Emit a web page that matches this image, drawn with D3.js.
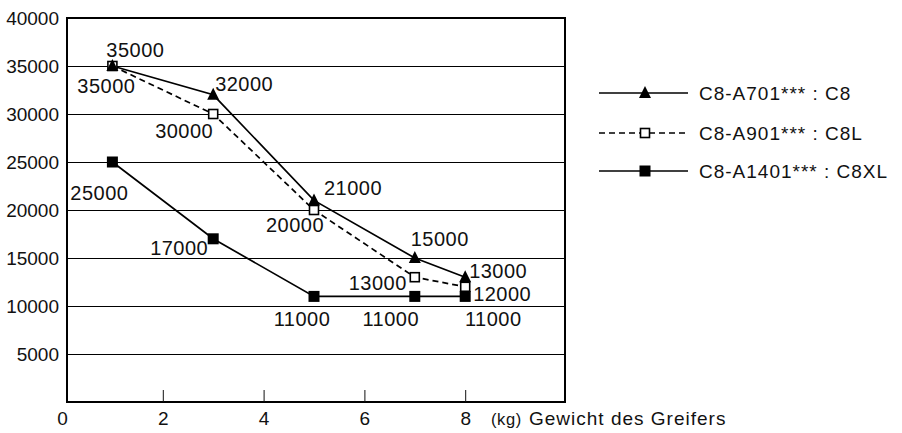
<!DOCTYPE html>
<html>
<head>
<meta charset="utf-8">
<script src="https://cdn.jsdelivr.net/npm/d3@7"></script>
<style>
  html, body { margin: 0; padding: 0; background: #fff; }
  svg { display: block; font-family: "Liberation Sans", Arial, Helvetica, sans-serif; }
</style>
</head>
<body>
<svg id="chart" width="902" height="433"></svg>
<script>
// ---- data ----
const weights = [1, 3, 5, 7, 8];               // kg
const c8Values   = [35000, 32000, 21000, 15000, 13000];
const c8lValues  = [35000, 30000, 20000, 13000, 12000];
const c8xlValues = [25000, 17000, 11000, 11000, 11000];
const seriesNames = ["C8-A701*** : C8", "C8-A901*** : C8L", "C8-A1401*** : C8XL"];
const yTicks = [5000, 10000, 15000, 20000, 25000, 30000, 35000, 40000];
const xTicks = [0, 2, 4, 6, 8];
const xTitleUnit = "(kg)";
const xTitle = "Gewicht des Greifers";

// label placement (pixel offsets from the point: dx, dy to baseline)
const c8LabelOff   = [[23, -9], [31, -4], [39, -5], [25, -12], [33, 1]];
const c8lLabelOff  = [[-6, 27], [-29, 24], [-19, 22], [-37, 13], [37, 14]];
const c8xlLabelOff = [[-13, 38], [-34, 16], [-12, 30], [-24, 30], [28, 30]];

const series = [
  { name: seriesNames[1], values: c8lValues,  marker: "openSquare", dash: "6,4", off: c8lLabelOff },
  { name: seriesNames[0], values: c8Values,   marker: "triangle",   dash: null,  off: c8LabelOff },
  { name: seriesNames[2], values: c8xlValues, marker: "square",     dash: null,  off: c8xlLabelOff }
];
const legendOrder = [1, 0, 2];

// ---- layout ----
const frame = { left: 67, right: 565, top: 18, bottom: 402 };
const x = d3.scaleLinear().domain([0, 10]).range([62, 566]);
const y = d3.scaleLinear().domain([0, 40000]).range([frame.bottom, frame.top]);

const svg = d3.select("#chart");

// gridlines
svg.append("g").selectAll("line")
  .data(yTicks.filter(t => t < 40000))
  .join("line")
  .attr("x1", frame.left).attr("x2", frame.right)
  .attr("y1", d => Math.round(y(d)) + 0.5).attr("y2", d => Math.round(y(d)) + 0.5)
  .attr("stroke", "#000").attr("stroke-width", 1);

// frame
svg.append("rect")
  .attr("x", frame.left).attr("y", frame.top)
  .attr("width", frame.right - frame.left).attr("height", frame.bottom - frame.top)
  .attr("fill", "none").attr("stroke", "#000").attr("stroke-width", 2);

// y axis labels
const yAxis = d3.axisLeft(y).tickValues(yTicks).tickSize(0).tickPadding(0).tickFormat(d3.format("d"));
const gy = svg.append("g").attr("transform", `translate(${frame.left - 8},0)`).call(yAxis);
gy.select(".domain").remove();
gy.selectAll("text").attr("font-size", 19).attr("fill", "#111")
  .attr("font-family", "Liberation Sans, Arial, sans-serif");

// x axis: inward ticks + labels
const xAxis = d3.axisBottom(x).tickValues(xTicks).tickSize(0).tickPadding(0).tickFormat(d3.format("d"));
const gx = svg.append("g").attr("transform", `translate(0,${frame.bottom})`).call(xAxis);
gx.select(".domain").remove();
gx.selectAll("text").attr("font-size", 19).attr("fill", "#111")
  .attr("font-family", "Liberation Sans, Arial, sans-serif")
  .attr("dy", null).attr("y", 23);
gx.selectAll(".tick").filter(d => d !== 0).append("line")
  .attr("y1", 0).attr("y2", -12).attr("stroke", "#111").attr("stroke-width", 1);

// x title
svg.append("text").attr("x", 491).attr("y", frame.bottom + 23)
  .attr("font-size", 16.5).attr("letter-spacing", 0.6).attr("fill", "#111").text(xTitleUnit);
svg.append("text").attr("x", 529).attr("y", frame.bottom + 23)
  .attr("font-size", 19).attr("letter-spacing", 1).attr("fill", "#111").text(xTitle);

// markers
function drawMarker(g, type, cx, cy) {
  if (type === "triangle") {
    g.append("path")
      .attr("d", `M${cx},${cy - 7} L${cx + 6},${cy + 5} L${cx - 6},${cy + 5} Z`)
      .attr("fill", "#000");
  } else if (type === "square") {
    g.append("rect").attr("x", cx - 5.5).attr("y", cy - 5.5).attr("width", 11).attr("height", 11)
      .attr("fill", "#000");
  } else {
    g.append("rect").attr("x", cx - 4.5).attr("y", cy - 4.5).attr("width", 9).attr("height", 9)
      .attr("fill", "#fff").attr("stroke", "#000").attr("stroke-width", 1.6);
  }
}

const line = d3.line().x((d, i) => x(weights[i])).y(d => y(d));

// lines
series.forEach(s => {
  svg.append("path").datum(s.values)
    .attr("d", line)
    .attr("fill", "none").attr("stroke", "#000").attr("stroke-width", 1.7)
    .attr("stroke-dasharray", s.dash);
});
// markers
series.forEach(s => {
  const g = svg.append("g");
  s.values.forEach((v, i) => drawMarker(g, s.marker, x(weights[i]), y(v)));
});
// value labels
series.forEach(s => {
  svg.append("g").selectAll("text").data(s.values).join("text")
    .attr("x", (d, i) => x(weights[i]) + s.off[i][0])
    .attr("y", (d, i) => y(d) + s.off[i][1])
    .attr("text-anchor", "middle")
    .attr("font-size", 20).attr("letter-spacing", 0.5).attr("fill", "#111")
    .text(d => d);
});

// legend
const legendRows = [93, 133, 171];
legendOrder.forEach((si, r) => {
  const s = series[si];
  const ly = legendRows[r];
  const g = svg.append("g");
  g.append("line").attr("x1", 599).attr("x2", 688).attr("y1", ly).attr("y2", ly)
    .attr("stroke", "#000").attr("stroke-width", 1.7).attr("stroke-dasharray", s.dash);
  drawMarker(g, s.marker, 645, ly);
  g.append("text").attr("x", 699).attr("y", ly + 6.5)
    .attr("font-size", 19).attr("letter-spacing", 1).attr("fill", "#111").text(s.name);
});
</script>
</body>
</html>
